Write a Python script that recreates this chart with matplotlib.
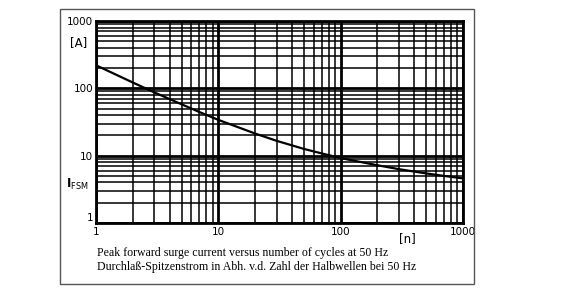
import matplotlib
matplotlib.use('Agg')
import matplotlib.pyplot as plt
from matplotlib.patches import Rectangle
from matplotlib.ticker import LogLocator, NullFormatter

# values
n_cycles = [1, 2, 3, 5, 7, 10, 20, 30, 50, 70, 100, 200, 300, 500, 700, 1000]
i_fsm = [220, 122, 87, 58, 44.5, 34, 21.3, 16.6, 12.6, 10.8, 9.2, 7.2, 6.3, 5.45, 5.0, 4.6]
y_ticks = [1, 10, 100, 1000]
x_ticks = [1, 10, 100, 1000]
caption = ["Peak forward surge current versus number of cycles at 50 Hz",
           "Durchlaß-Spitzenstrom in Abh. v.d. Zahl der Halbwellen bei 50 Hz"]

fig = plt.figure(figsize=(5.62, 2.89), dpi=100)
W, H = 562, 289

# outer frame around the whole chart
fig.patches.append(Rectangle((60 / W, 1 - 284 / H), 414 / W, 275 / H,
                             transform=fig.transFigure, fill=False,
                             edgecolor='#555555', linewidth=1.0))

ax = fig.add_axes([96 / W, 1 - 223 / H, 367 / W, 202 / H])
ax.set_xscale('log')
ax.set_yscale('log')
ax.set_xlim(1, 1000)
ax.set_ylim(1, 1000)

ax.plot(n_cycles, i_fsm, color='black', linewidth=1.6, zorder=3)

ax.xaxis.set_major_locator(LogLocator(base=10))
ax.yaxis.set_major_locator(LogLocator(base=10))
ax.xaxis.set_minor_locator(LogLocator(base=10, subs=range(2, 10)))
ax.yaxis.set_minor_locator(LogLocator(base=10, subs=range(2, 10)))
ax.xaxis.set_minor_formatter(NullFormatter())
ax.yaxis.set_minor_formatter(NullFormatter())
ax.grid(which='major', color='black', linewidth=2.0)
ax.grid(which='minor', color='black', linewidth=1.1)
ax.tick_params(which='both', length=0)
ax.set_xticks(x_ticks)
ax.set_xticklabels([str(v) for v in x_ticks])
ax.set_yticks(y_ticks)
ax.set_yticklabels([str(v) for v in y_ticks])
ax.tick_params(axis='both', labelsize=7.5, pad=2)
ax.tick_params(axis='x', pad=3)
ax.get_yticklabels()[0].set_va('bottom')
for s in ax.spines.values():
    s.set_linewidth(2.0)

fig.text(70 / W, 1 - 43 / H, "[A]", fontsize=8.5, va='center')
fig.text(66 / W, 1 - 184 / H, r"$\mathbf{I}_{\mathrm{FSM}}$", fontsize=8.5, va='center')
fig.text(399 / W, 1 - 239 / H, "[n]", fontsize=8.5, va='center')
fig.text(97 / W, 1 - 253 / H, caption[0], fontsize=8.6, family='Liberation Serif', va='center')
fig.text(97 / W, 1 - 267 / H, caption[1], fontsize=8.6, family='Liberation Serif', va='center')

fig.savefig('out.png', dpi=100)
